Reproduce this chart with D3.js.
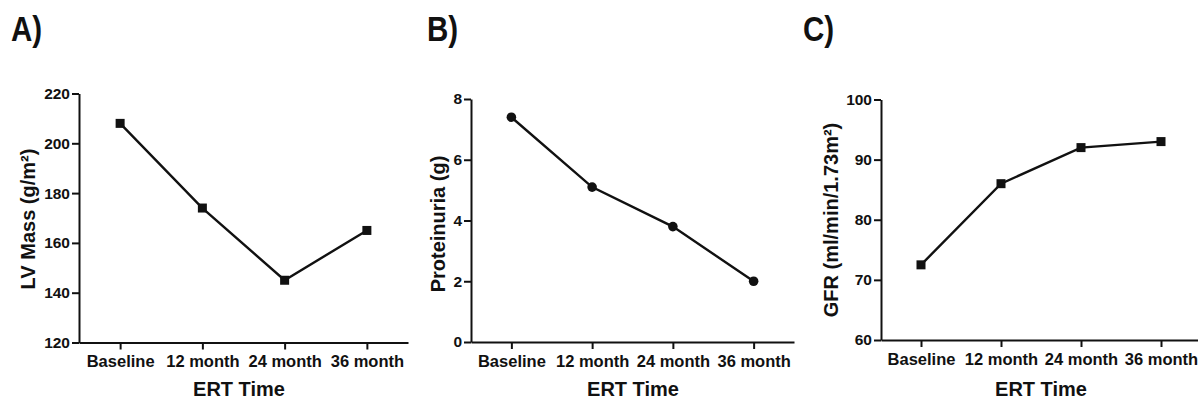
<!DOCTYPE html>
<html>
<head>
<meta charset="utf-8">
<script src="https://cdn.jsdelivr.net/npm/d3@7"></script>
<style>
  body { margin: 0; background: #fff; }
  svg text { font-family: "Liberation Sans", Arial, sans-serif; font-weight: bold; fill: #111; }
</style>
</head>
<body>
<svg id="chart" width="1198" height="400"></svg>
<script>
const timepoints = ["Baseline", "12 month", "24 month", "36 month"];

const lvMass = [208, 174, 145, 165];
const proteinuria = [7.4, 5.1, 3.8, 2.0];
const gfr = [72.5, 86, 92, 93];

const lvTicks = [120, 140, 160, 180, 200, 220];
const protTicks = [0, 2, 4, 6, 8];
const gfrTicks = [60, 70, 80, 90, 100];

const svg = d3.select("#chart");

// one panel per measure
function drawPanel(opt) {
    const g = svg.append("g");

    const x = d3.scalePoint()
        .domain(timepoints)
        .range([opt.x0, opt.x1])
        .padding(0.5);

    const y = d3.scaleLinear()
        .domain(opt.domain)
        .range([opt.y0, opt.y1]);

    const xAxis = g.append("g")
        .attr("transform", `translate(0,${opt.y0})`)
        .call(d3.axisBottom(x).tickSize(7).tickSizeOuter(0).tickPadding(6));

    const yAxis = g.append("g")
        .attr("transform", `translate(${opt.x0},0)`)
        .call(d3.axisLeft(y).tickValues(opt.ticks).tickSize(7).tickSizeOuter(0).tickPadding(2));

    [xAxis, yAxis].forEach(ax => {
        ax.select(".domain").attr("stroke", "#111").attr("stroke-width", 2);
        ax.selectAll(".tick line").attr("stroke", "#111").attr("stroke-width", 2);
        ax.selectAll(".tick text").attr("fill", "#111")
            .attr("font-family", "Liberation Sans, Arial, sans-serif").attr("font-weight", "bold");
    });
    xAxis.selectAll(".tick text").attr("font-size", 16.5);
    yAxis.selectAll(".tick text").attr("font-size", 15.5);

    const line = d3.line()
        .x((d, i) => x(timepoints[i]))
        .y(d => y(d));

    g.append("path")
        .datum(opt.values)
        .attr("fill", "none")
        .attr("stroke", "#111")
        .attr("stroke-width", 2.4)
        .attr("d", line);

    if (opt.marker === "circle") {
        g.selectAll(".pt").data(opt.values).enter().append("circle")
            .attr("cx", (d, i) => x(timepoints[i]))
            .attr("cy", d => y(d))
            .attr("r", 4.8)
            .attr("fill", "#111");
    } else {
        g.selectAll(".pt").data(opt.values).enter().append("rect")
            .attr("x", (d, i) => x(timepoints[i]) - 4.5)
            .attr("y", d => y(d) - 4.5)
            .attr("width", 9)
            .attr("height", 9)
            .attr("fill", "#111");
    }

    g.append("text")
        .attr("transform", `translate(${opt.yTitleX},${opt.yTitleY}) rotate(-90)`)
        .attr("text-anchor", "middle")
        .attr("font-size", 20)
        .text(opt.yTitle);

    g.append("text")
        .attr("x", opt.xTitleX)
        .attr("y", 396)
        .attr("text-anchor", "middle")
        .attr("font-size", 20)
        .text("ERT Time");

    g.append("text")
        .attr("transform", `translate(${opt.labelX},41) scale(0.82,1)`)
        .attr("font-size", 36)
        .text(opt.label);
}

drawPanel({
    label: "A)", labelX: 11,
    x0: 79, x1: 408, y0: 342.5, y1: 93.5,
    domain: [120, 220], ticks: lvTicks, values: lvMass, marker: "square",
    yTitle: "LV Mass (g/m²)", yTitleX: 35, yTitleY: 219, xTitleX: 239
});

drawPanel({
    label: "B)", labelX: 427,
    x0: 471, x1: 794, y0: 342, y1: 99,
    domain: [0, 8], ticks: protTicks, values: proteinuria, marker: "circle",
    yTitle: "Proteinuria (g)", yTitleX: 445, yTitleY: 224, xTitleX: 633
});

drawPanel({
    label: "C)", labelX: 803,
    x0: 881, x1: 1201, y0: 340, y1: 99.5,
    domain: [60, 100], ticks: gfrTicks, values: gfr, marker: "square",
    yTitle: "GFR (ml/min/1.73m²)", yTitleX: 838, yTitleY: 220, xTitleX: 1041
});
</script>
</body>
</html>
